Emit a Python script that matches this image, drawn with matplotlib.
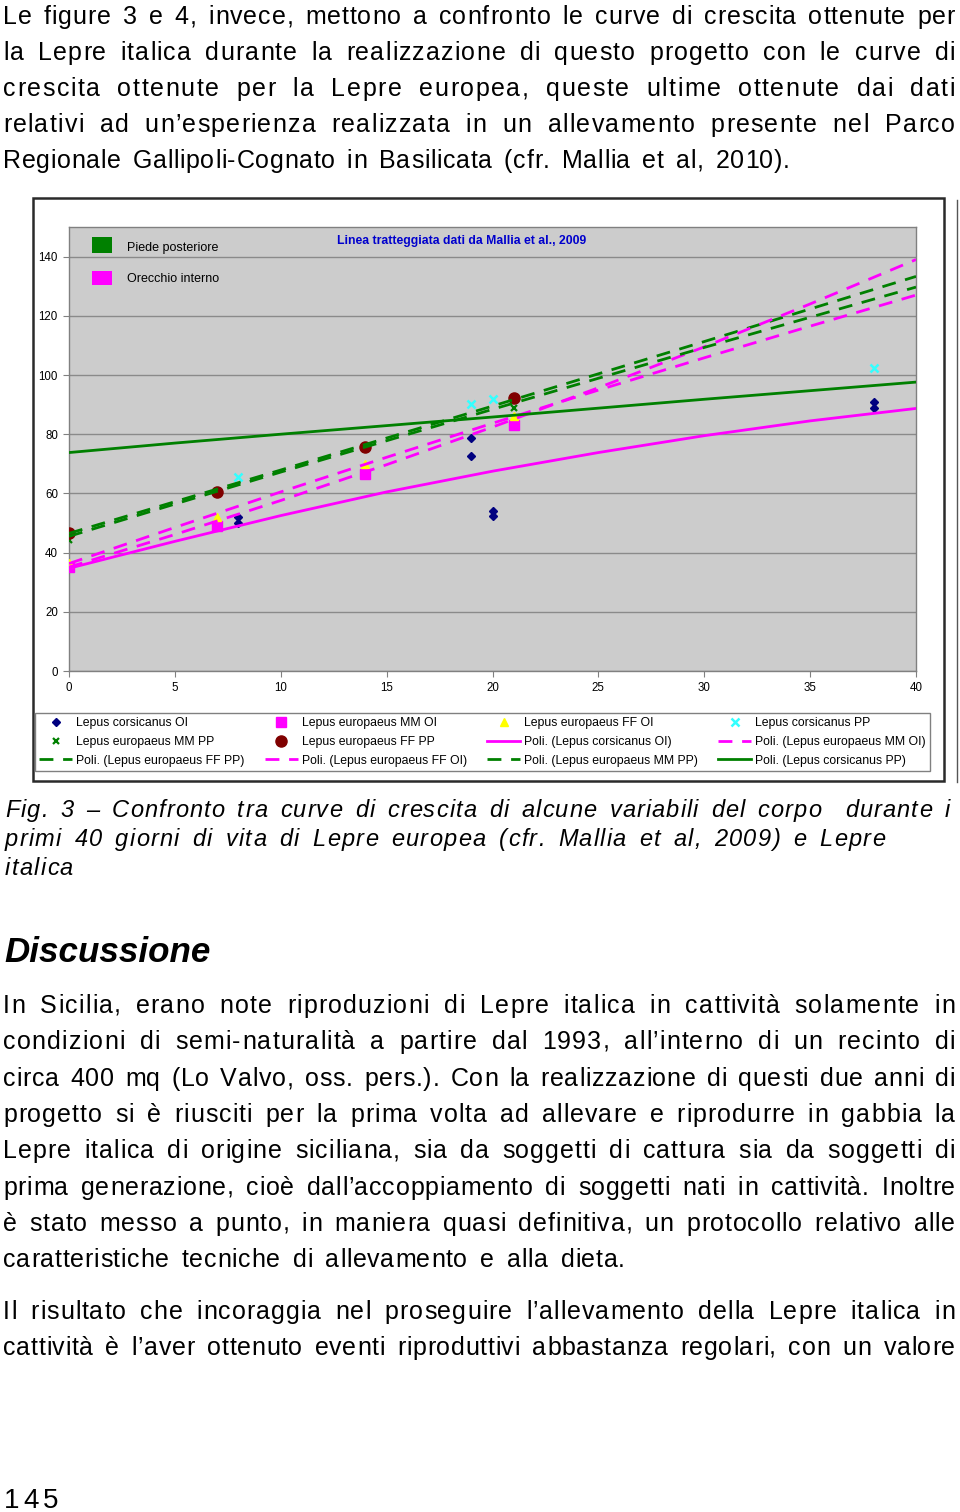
import matplotlib
matplotlib.use('Agg')
import matplotlib.pyplot as plt
from matplotlib import font_manager
from matplotlib.lines import Line2D
from matplotlib.patches import Rectangle

W, H = 960, 1512

# trend curves (Poli.) at every 5 days
days_trend = [0, 5, 10, 15, 20, 25, 30, 35, 40]
poli_cors_oi = [34.7, 43.8, 52.5, 60.5, 67.5, 73.8, 79.5, 84.5, 88.7]
poli_cors_pp = [73.8, 77.0, 80.0, 82.9, 85.8, 88.8, 91.8, 94.7, 97.6]
poli_eu_mm_oi = [36.3, 48.5, 60.5, 72.2, 83.7, 94.9, 105.8, 116.5, 127.0]
poli_eu_ff_oi = [35.1, 46.1, 57.6, 69.7, 82.4, 95.7, 109.5, 124.0, 139.0]
poli_eu_ff_pp = [46.5, 57.2, 67.9, 78.7, 89.5, 100.4, 111.3, 122.3, 133.3]
poli_eu_mm_pp = [45.5, 56.4, 67.2, 77.8, 88.4, 98.9, 109.3, 119.5, 129.7]

# measured points
cors_oi_x = [8, 8, 19, 19, 20, 20, 38, 38]
cors_oi_y = [50, 52, 72.7, 78.7, 52.3, 54, 89, 91]
cors_pp_x = [8, 19, 20, 38]
cors_pp_y = [65.4, 90.1, 91.8, 102.4]
eu_days = [0, 7, 14, 21]
eu_mm_oi = [35, 49, 66.5, 83]
eu_ff_oi = [36.5, 52, 69.8, 86]
eu_mm_pp = [44.3, 60, 75, 88.8]
eu_ff_pp = [46.5, 60.5, 75.6, 92.3]

y_ticks = [0, 20, 40, 60, 80, 100, 120, 140]
x_ticks = [0, 5, 10, 15, 20, 25, 30, 35, 40]

par1 = [
    "Le figure 3 e 4, invece, mettono a confronto le curve di crescita ottenute per",
    "la Lepre italica durante la realizzazione di questo progetto con le curve di",
    "crescita ottenute per la Lepre europea, queste ultime ottenute dai dati",
    "relativi ad un’esperienza realizzata in un allevamento presente nel Parco",
    "Regionale Gallipoli-Cognato in Basilicata (cfr. Mallia et al, 2010).",
]
par1_base = [24, 60, 96, 132, 168]
par1_end = [955, 955, 955, 955, 790]

caption = [
    "Fig. 3 – Confronto tra curve di crescita di alcune variabili del corpo  durante i",
    "primi 40 giorni di vita di Lepre europea (cfr. Mallia et al, 2009) e Lepre",
    "italica",
]
caption_base = [817, 846, 875]
caption_end = [950, 885, 73]

par2 = [
    "In Sicilia, erano note riproduzioni di Lepre italica in cattività solamente in",
    "condizioni di semi-naturalità a partire dal 1993, all’interno di un recinto di",
    "circa 400 mq (Lo Valvo, oss. pers.). Con la realizzazione di questi due anni di",
    "progetto si è riusciti per la prima volta ad allevare e riprodurre in gabbia la",
    "Lepre italica di origine siciliana, sia da soggetti di cattura sia da soggetti di",
    "prima generazione, cioè dall’accoppiamento di soggetti nati in cattività. Inoltre",
    "è stato messo a punto, in maniera quasi definitiva, un protocollo relativo alle",
    "caratteristiche tecniche di allevamento e alla dieta.",
]
par2_base = [1013, 1049, 1086, 1122, 1158, 1195, 1231, 1267]
par2_end = [955, 955, 955, 955, 955, 955, 955, 625]

par3 = [
    "Il risultato che incoraggia nel proseguire l’allevamento della Lepre italica in",
    "cattività è l’aver ottenuto eventi riproduttivi abbastanza regolari, con un valore",
]
par3_base = [1319, 1355]
par3_end = [955, 955]

body_font = 'Liberation Sans'
chart_font = 'Liberation Sans'

fig = plt.figure(figsize=(W / 100, H / 100), dpi=100)
fig.patch.set_facecolor('white')
renderer = fig.canvas.get_renderer()


def fx(px):
    return px / W


def fy(py):
    return 1 - py / H


_cache = {}


def text_w(s, size, kw):
    key = (s, size, tuple(sorted(kw.items())))
    if key not in _cache:
        t = fig.text(0, 0, s, fontsize=size, family=body_font, **kw)
        _cache[key] = t.get_window_extent(renderer).width
        t.remove()
    return _cache[key]


def advance(ch, size, kw):
    return text_w('|' + ch + '|', size, kw) - text_w('||', size, kw)


def put_line(text, base, x0, x1, size, **kw):
    # spread the line over x0..x1: part as letter spacing, the rest in word gaps
    widths = [advance(ch, size, kw) for ch in text]
    extra = (x1 - x0) - sum(widths)
    n_gaps = max(len(text) - 1, 1)
    n_sp = text.count(' ')
    track = max(min(extra * 0.6 / n_gaps, 2.2), 0) if n_sp else max(extra / n_gaps, 0)
    word_extra = (extra - track * n_gaps) / n_sp if n_sp else 0
    x = x0
    for ch, wd in zip(text, widths):
        if ch != ' ':
            fig.text(fx(x), fy(base), ch, fontsize=size, family=body_font,
                     ha='left', va='baseline', **kw)
        x += wd + track + (word_extra if ch == ' ' else 0)


body_size = 18
for line, b, e in zip(par1, par1_base, par1_end):
    put_line(line, b, 3, e, body_size)
for line, b, e in zip(caption, caption_base, caption_end):
    put_line(line, b, 5, e, 17, style='italic')
fig.text(fx(4), fy(962), "Discussione", fontsize=25.2, family=body_font,
         style='italic', weight='bold', ha='left', va='baseline')
for line, b, e in zip(par2, par2_base, par2_end):
    put_line(line, b, 3, e, body_size)
for line, b, e in zip(par3, par3_base, par3_end):
    put_line(line, b, 3, e, body_size)
put_line("145", 1508, 4, 58, 20)

# chart frame
fig.add_artist(Rectangle((fx(33), fy(781)), fx(944) - fx(33), fy(198) - fy(781),
                         transform=fig.transFigure, facecolor='white',
                         edgecolor='#2a2a2a', lw=1.8, zorder=0))
fig.add_artist(Line2D([fx(957), fx(957)], [fy(200), fy(782)],
                      transform=fig.transFigure, color='#555555', lw=1))

ax = fig.add_axes([fx(69), fy(671), fx(916) - fx(69), fy(227) - fy(671)])
ax.set_facecolor('#CCCCCC')
ax.set_xlim(0, 40)
ax.set_ylim(0, 150)
ax.set_xticks(x_ticks)
ax.set_yticks(y_ticks)
ax.grid(axis='y', color='#8a8a8a', lw=1)
ax.set_axisbelow(True)
for s in ax.spines.values():
    s.set_color('#808080')
    s.set_linewidth(1)
ax.tick_params(direction='out', length=4, width=0.8, color='#808080',
               labelsize=8.3, pad=4)
for lab in ax.get_xticklabels() + ax.get_yticklabels():
    lab.set_family(chart_font)

ms_kw = dict(linestyle='None', zorder=3)
h_cors_oi, = ax.plot(cors_oi_x, cors_oi_y, marker='D', ms=4.5, color='#000080',
                     label='Lepus corsicanus OI', **ms_kw)
h_mm_oi, = ax.plot(eu_days, eu_mm_oi, marker='s', ms=7, color='#FF00FF',
                   label='Lepus europaeus MM OI', **ms_kw)
h_ff_oi, = ax.plot(eu_days, eu_ff_oi, marker='^', ms=6, color='#FFFF00',
                   label='Lepus europaeus FF OI', **ms_kw)
h_cors_pp, = ax.plot(cors_pp_x, cors_pp_y, marker='x', ms=6, mew=1.8,
                     color='#33FFFF', label='Lepus corsicanus PP', **ms_kw)
h_mm_pp, = ax.plot(eu_days, eu_mm_pp, marker='x', ms=5, mew=1.6, color='#008000',
                   label='Lepus europaeus MM PP', **ms_kw)
h_ff_pp, = ax.plot(eu_days, eu_ff_pp, marker='o', ms=8, color='#800000',
                   label='Lepus europaeus FF PP', **ms_kw)

dash = (0, (5, 3.5))
lw = 2.0
p_cors_oi, = ax.plot(days_trend, poli_cors_oi, color='#FF00FF', lw=lw, zorder=4,
                     label='Poli. (Lepus corsicanus OI)')
p_mm_oi, = ax.plot(days_trend, poli_eu_mm_oi, color='#FF00FF', lw=lw, ls=dash,
                   zorder=4, label='Poli. (Lepus europaeus MM OI)')
p_ff_pp, = ax.plot(days_trend, poli_eu_ff_pp, color='#008000', lw=lw, ls=dash,
                   zorder=4, label='Poli. (Lepus europaeus FF PP)')
p_ff_oi, = ax.plot(days_trend, poli_eu_ff_oi, color='#FF00FF', lw=lw, ls=dash,
                   zorder=4, label='Poli. (Lepus europaeus FF OI)')
p_mm_pp, = ax.plot(days_trend, poli_eu_mm_pp, color='#008000', lw=lw, ls=dash,
                   zorder=4, label='Poli. (Lepus europaeus MM PP)')
p_cors_pp, = ax.plot(days_trend, poli_cors_pp, color='#008000', lw=lw, zorder=4,
                     label='Poli. (Lepus corsicanus PP)')

# notes inside the plot area
fig.add_artist(Rectangle((fx(92), fy(253)), fx(112) - fx(92), fy(237) - fy(253),
                         transform=fig.transFigure, facecolor='#008000', lw=0))
fig.add_artist(Rectangle((fx(92), fy(285)), fx(112) - fx(92), fy(271) - fy(285),
                         transform=fig.transFigure, facecolor='#FF00FF', lw=0))
fig.text(fx(127), fy(248), "Piede posteriore", fontsize=9, family=chart_font,
         va='center', ha='left')
fig.text(fx(127), fy(279), "Orecchio interno", fontsize=9, family=chart_font,
         va='center', ha='left')
fig.text(fx(337), fy(241), "Linea tratteggiata dati da Mallia et al., 2009",
         fontsize=8.8, family=chart_font, weight='bold', color='#0000CC',
         va='center', ha='left')

rows = [[h_cors_oi, h_mm_oi, h_ff_oi, h_cors_pp],
        [h_mm_pp, h_ff_pp, p_cors_oi, p_mm_oi],
        [p_ff_pp, p_ff_oi, p_mm_pp, p_cors_pp]]
handles = [rows[r][c] for c in range(4) for r in range(3)]
leg = ax.legend(handles=handles, labels=[h.get_label() for h in handles],
                ncol=4, loc='center', mode='expand',
                bbox_to_anchor=(fx(35), fy(773), fx(930) - fx(35), fy(711) - fy(773)),
                bbox_transform=fig.transFigure, borderaxespad=0,
                fancybox=False, framealpha=1, edgecolor='#808080',
                prop={'family': chart_font, 'size': 8.8},
                handlelength=2.7, handletextpad=0.3, labelspacing=0.55,
                borderpad=0.35, columnspacing=0.6)
leg.get_frame().set_linewidth(1)

fig.savefig('out.png', dpi=100, facecolor='white')
